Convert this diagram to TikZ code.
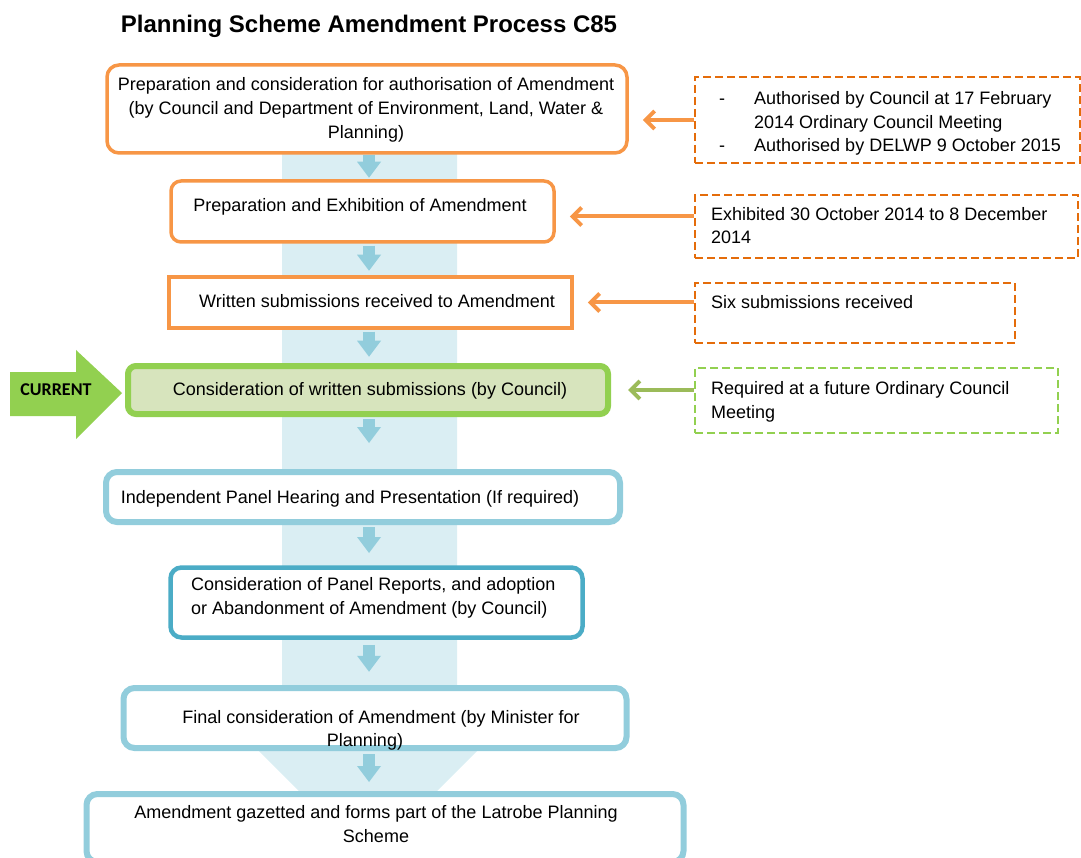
\documentclass[tikz,border=0pt]{standalone}
\usepackage{fontspec}
\setmainfont{Liberation Sans}
\newfontfamily\curfont{Carlito}
\usetikzlibrary{arrows.meta}
\definecolor{orangeln}{HTML}{F79646}
\definecolor{orangedash}{HTML}{E46C0A}
\definecolor{greenln}{HTML}{92D050}
\definecolor{greenfill}{HTML}{D7E4BD}
\definecolor{greenarr}{HTML}{9BBB59}
\definecolor{blueln}{HTML}{92CDDC}
\definecolor{tealln}{HTML}{4BACC6}
\definecolor{bandcol}{HTML}{DAEEF3}
\definecolor{flowcol}{HTML}{92CDDC}
\begin{document}
\begin{tikzpicture}[x=1pt,y=-1pt,
  mainbox/.style={draw, fill=white, inner sep=0pt},
  obox/.style={mainbox, draw=orangeln, line width=3.5pt, rounded corners=12pt},
  gbox/.style={mainbox, draw=greenln, fill=greenfill, line width=6pt, rounded corners=8pt},
  bbox/.style={mainbox, draw=blueln, line width=6pt, rounded corners=11pt},
  notebox/.style={draw, dash pattern=on 8pt off 4pt, line width=2.2pt, inner sep=0pt},
  bodytext/.style={inner sep=0pt, font=\fontsize{18}{23.3}\selectfont},
  titletext/.style={inner sep=0pt, font=\bfseries\fontsize{24}{28}\selectfont},
  flowarrow/.style={draw=flowcol, line width=12pt, -{Triangle[length=16pt 0 0,width=24pt 0 0,line width=0pt]}},
  sidearrow/.style={line width=4pt, -{Straight Barb[length=9pt 0 0,width=18pt 0 0]}, shorten >=14pt}
]
\useasboundingbox (0,0) rectangle (1081,858);
\clip (0,0) rectangle (1081,858);
% background band arrow
\fill[bandcol] (282,120) -- (457,120) -- (457,720) -- (508,720) -- (368,860) -- (228,720) -- (282,720) -- cycle;
\coordinate (cx) at (369,0);

% title
\node[titletext, anchor=base] (title) at (369,33) {Planning Scheme Amendment Process C85};

% main boxes
\node[obox, minimum width=520pt, minimum height=88pt] (b1) at (367,109) {};
\node[obox, rounded corners=10pt, minimum width=383pt, minimum height=61pt] (b2) at (362.5,211.5) {};
\node[obox, sharp corners, minimum width=403pt, minimum height=51pt] (b3) at (370.5,302.5) {};
\node[gbox, minimum width=480pt, minimum height=48pt] (b4) at (368,390) {};
\node[bbox, minimum width=514pt, minimum height=50pt] (b5) at (363,497) {};
\node[bbox, draw=tealln, line width=4.5pt, minimum width=412pt, minimum height=70pt] (b6) at (376.5,602.5) {};
\node[bbox, minimum width=503pt, minimum height=60pt] (b7) at (375,718) {};
\node[bbox, minimum width=597pt, minimum height=68pt] (b8) at (385,828) {};

% note boxes
\node[notebox, draw=orangedash, minimum width=385pt, minimum height=86pt] (r1) at (887.5,120) {};
\node[notebox, draw=orangedash, minimum width=383pt, minimum height=63pt] (r2) at (886.5,226.5) {};
\node[notebox, draw=orangedash, minimum width=320pt, minimum height=60pt] (r3) at (855,313) {};
\node[notebox, draw=greenln, minimum width=363pt, minimum height=65pt] (r4) at (876.5,400.5) {};

% texts of main boxes (multi-line nodes: base = last line)
\node[bodytext, font=\fontsize{18}{24}\selectfont, anchor=base, align=center] (t1) at (366,139) {Preparation and consideration for authorisation of Amendment\\(by Council and Department of Environment, Land, Water \&\\Planning)};
\node[bodytext, anchor=base] (t2) at (360,212) {Preparation and Exhibition of Amendment};
\node[bodytext, anchor=base] (t3) at (377,308) {Written submissions received to Amendment};
\node[bodytext, anchor=base] (t4) at (370,395) {Consideration of written submissions (by Council)};
\node[bodytext, anchor=base] (t5) at (350,503) {Independent Panel Hearing and Presentation (If required)};
\node[bodytext, anchor=base west, align=left] (t6) at (191,614) {Consideration of Panel Reports, and adoption\\or Abandonment of Amendment (by Council)};
\node[bodytext, anchor=base, align=center] (t7) at (381,746.5) {Final consideration of Amendment (by Minister for\\\hspace*{-32pt}Planning)};
\node[bodytext, anchor=base, align=center] (t8) at (376,842) {Amendment gazetted and forms part of the Latrobe Planning\\Scheme};

% texts of notes
\node[bodytext, anchor=base west] (n1) at (719,105) {\begin{tabular}[t]{@{}p{35pt}@{}l@{}}-&Authorised by Council at 17 February\\&2014 Ordinary Council Meeting\\-&Authorised by DELWP 9 October 2015\end{tabular}};
\node[bodytext, anchor=base west, align=left] (n2) at (711,244) {Exhibited 30 October 2014 to 8 December\\2014};
\node[bodytext, anchor=base west] (n3) at (711,309) {Six submissions received};
\node[bodytext, anchor=base west, align=left] (n4) at (711,418) {Required at a future Ordinary Council\\Meeting};

% CURRENT marker
\fill[greenln] (10,372) -- (76,372) -- (76,350) -- (122,393) -- (76,439) -- (76,416) -- (10,416) -- cycle;
\node[inner sep=0pt, anchor=base, font=\curfont\bfseries\fontsize{18}{20}\selectfont] (cur) at (56,395) {CURRENT};

% flow arrows
\draw[flowarrow] (b1.south -| cx) -- ++(0,23);
\draw[flowarrow] (b2.south -| cx) ++(0,2) -- ++(0,25);
\draw[flowarrow] (b3.south -| cx) ++(0,2) -- ++(0,25);
\draw[flowarrow] (b4.south -| cx) ++(0,2) -- ++(0,24);
\draw[flowarrow] (b5.south -| cx) ++(0,2) -- ++(0,26);
\draw[flowarrow] (b6.south -| cx) ++(0,5) -- ++(0,27);
\draw[flowarrow] (b7.south -| cx) ++(0,3) -- ++(0,28);

% side arrows
\coordinate (a2) at ([yshift=-5pt]b2.east);
\draw[sidearrow, draw=orangeln] (r1.west) -- (b1.east |- r1.west);
\draw[sidearrow, draw=orangeln] (r2.west |- a2) -- (a2);
\draw[sidearrow, draw=orangeln] (r3.west |- b3.east) -- (b3.east);
\draw[sidearrow, draw=greenarr, shorten >=17pt] (r4.west |- b4.east) -- (b4.east);
\end{tikzpicture}
\end{document}
